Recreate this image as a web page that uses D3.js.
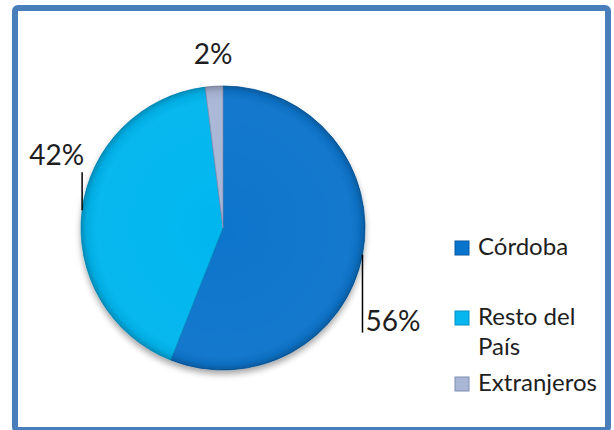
<!DOCTYPE html>
<html>
<head>
<meta charset="utf-8">
<script src="https://cdn.jsdelivr.net/npm/d3@7"></script>
<style>
  html, body { margin: 0; padding: 0; background: #ffffff; }
  svg { display: block; }
  text { font-family: Lato, "Open Sans", "DejaVu Sans", sans-serif; font-weight: 400; fill: #1e1e1e; }
</style>
</head>
<body>
<svg id="chart" width="614" height="430"></svg>
<script>
// Origin of visitors
const categories = ["Córdoba", "Resto del País", "Extranjeros"];
const shares = [56, 42, 2];
const legendLines = [["Córdoba"], ["Resto del", "País"], ["Extranjeros"]];
const sliceColors = ["#0a74cc", "#05b6ef", "#a9b6d6"];
const rimColors = ["#0559a3", "#0492c4", "#7f8db3"];

const W = 614, H = 430;
const svg = d3.select("#chart");
const defs = svg.append("defs");

// Frame
svg.append("rect")
  .attr("x", 15).attr("y", 8)
  .attr("width", 593).attr("height", 422)
  .attr("rx", 3)
  .attr("fill", "#ffffff")
  .attr("stroke", "#4a7ebb")
  .attr("stroke-width", 6);

const cx = 223, cy = 228, R = 142;

// Soft drop shadow under the pie
const shadow = defs.append("filter").attr("id", "pieShadow")
  .attr("x", "-20%").attr("y", "-20%").attr("width", "140%").attr("height", "140%");
shadow.append("feGaussianBlur").attr("in", "SourceAlpha").attr("stdDeviation", 3).attr("result", "b");
shadow.append("feOffset").attr("in", "b").attr("dx", 0).attr("dy", 4).attr("result", "o");
shadow.append("feComponentTransfer").attr("in", "o").attr("result", "s")
  .append("feFuncA").attr("type", "linear").attr("slope", 0.35);
const merge = shadow.append("feMerge");
merge.append("feMergeNode").attr("in", "s");
merge.append("feMergeNode").attr("in", "SourceGraphic");

// Bevel shading: darker toward the rim
const bevel = defs.append("radialGradient").attr("id", "bevel")
  .attr("gradientUnits", "userSpaceOnUse")
  .attr("cx", 0).attr("cy", 0).attr("r", R);
bevel.append("stop").attr("offset", "0%").attr("stop-color", "#fff").attr("stop-opacity", 0);
bevel.append("stop").attr("offset", "88%").attr("stop-color", "#fff").attr("stop-opacity", 0.03);
bevel.append("stop").attr("offset", "96%").attr("stop-color", "#000").attr("stop-opacity", 0.06);
bevel.append("stop").attr("offset", "100%").attr("stop-color", "#000").attr("stop-opacity", 0.22);

const pie = d3.pie().sort(null).value(d => d);
const arcs = pie(shares);
const arc = d3.arc().innerRadius(0).outerRadius(R);

const g = svg.append("g").attr("transform", `translate(${cx},${cy})`);
const slices = g.append("g").attr("filter", "url(#pieShadow)");

slices.selectAll("path.slice")
  .data(arcs)
  .join("path")
  .attr("class", "slice")
  .attr("d", arc)
  .attr("fill", (d, i) => sliceColors[i])
  .attr("stroke", (d, i) => rimColors[i])
  .attr("stroke-width", 0.8);

g.selectAll("path.shade")
  .data(arcs)
  .join("path")
  .attr("class", "shade")
  .attr("d", arc)
  .attr("fill", "url(#bevel)");

// Data labels with leader lines from the rim
const fmt = d => d + "%";
const rimPoint = d => {
  const a = (d.startAngle + d.endAngle) / 2;
  return [R * Math.sin(a), -R * Math.cos(a)];
};
const labelSpec = [
  { line: 78, dx: 3, dy: 76, anchor: "start" },
  { line: -38, dx: 2, dy: -45, anchor: "end" },
  { line: 0, dx: -1, dy: -22, anchor: "middle" }
];

arcs.forEach((d, i) => {
  const [px, py] = rimPoint(d);
  const s = labelSpec[i];
  if (s.line !== 0) {
    g.append("line")
      .attr("x1", px).attr("y1", py)
      .attr("x2", px).attr("y2", py + s.line)
      .attr("stroke", "#000").attr("stroke-width", 1.5);
  }
  g.append("text")
    .attr("x", px + s.dx)
    .attr("y", py + s.dy)
    .attr("text-anchor", s.anchor)
    .attr("font-size", 28)
    .text(fmt(shares[i]));
});

// Legend
const legendY = [255, 325, 391];
const legend = svg.append("g");
categories.forEach((c, i) => {
  const row = legend.append("g").attr("transform", `translate(455,${legendY[i]})`);
  row.append("rect")
    .attr("x", 0).attr("y", -14)
    .attr("width", 14).attr("height", 14)
    .attr("fill", sliceColors[i])
    .attr("stroke", rimColors[i]).attr("stroke-width", 1);
  legendLines[i].forEach((t, k) => {
    row.append("text")
      .attr("x", 23).attr("y", k * 30)
      .attr("font-size", 24)
      .text(t);
  });
});
</script>
</body>
</html>
